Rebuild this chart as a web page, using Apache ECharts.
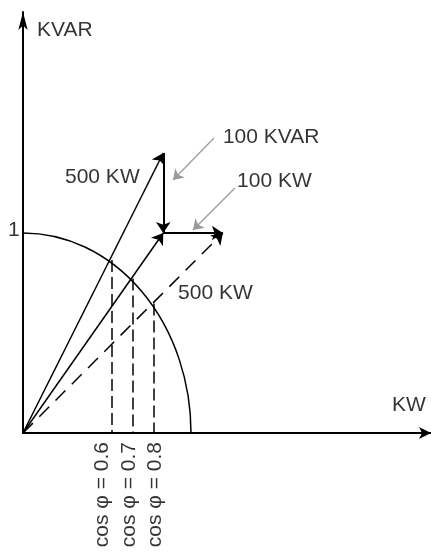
<!DOCTYPE html>
<html>
<head>
<meta charset="utf-8">
<script src="https://cdn.jsdelivr.net/npm/echarts@6/dist/echarts.min.js"></script>
<style>
  html, body { margin: 0; padding: 0; background: #fff; }
  #powerChart { width: 431px; height: 555px; }
</style>
</head>
<body>
<div id="powerChart"></div>
<script>
// unit circle (drawn as ellipse because the two axes use different scales)
var arcRadius = 1
// projection of the cos phi points on the circle
var cosLineX = [0.528, 0.653, 0.776]
var cosLineY = [0.865, 0.773, 0.648]
var cosLabels = ['cos φ = 0.6', 'cos φ = 0.7', 'cos φ = 0.8']
var cosLabelX = [0.47, 0.631, 0.786]
// vector end points
var pointA = [0.835, 1.40] // 500 KW
var pointB = [0.835, 1.0] // after -100 KVAR
var pointC = [1.19, 1.0] // after +100 KW
// grey pointer arrows
var leaderFrom = [[1.137, 1.475], [1.262, 1.225]]
var leaderTo = [[0.893, 1.265], [1.012, 1.015]]
// free texts
var textNames = ['KVAR', '500 KW', '100 KVAR', '100 KW', '500 KW', 'KW', '1']
var textPos = [[0.083, 2.015], [0.25, 1.28], [1.19, 1.478], [1.274, 1.258], [0.923, 0.70], [2.196, 0.137], [-0.089, 1.015]]

var chart = echarts.init(document.getElementById('powerChart'))

var textFont = {
  fontFamily: 'Liberation Sans',
  fontSize: 21,
  color: '#000'
}

var dropData = []
for (var i = 0; i < cosLineX.length; i++) {
  dropData.push({ coords: [[cosLineX[i], cosLineY[i]], [cosLineX[i], 0]] })
}
var leaderData = []
for (var j = 0; j < leaderFrom.length; j++) {
  leaderData.push({ coords: [leaderFrom[j], leaderTo[j]] })
}

chart.setOption({
  backgroundColor: '#fff',
  animation: false,
  grid: {
    left: 23,
    top: 12,
    right: 0,
    bottom: 122
  },
  xAxis: {
    type: 'value',
    min: 0,
    max: 2.4286,
    axisLine: {
      show: true,
      symbol: ['none', 'arrow'],
      symbolSize: [9, 12],
      lineStyle: { color: '#000', width: 2 }
    },
    axisTick: { show: false },
    axisLabel: { show: false },
    splitLine: { show: false }
  },
  yAxis: {
    type: 'value',
    min: 0,
    max: 2.105,
    axisLine: {
      show: true,
      symbol: ['none', 'arrow'],
      symbolSize: [7, 18],
      lineStyle: { color: '#000', width: 2 }
    },
    axisTick: { show: false },
    axisLabel: { show: false },
    splitLine: { show: false }
  },
  series: [
    {
      // quarter circle
      type: 'custom',
      silent: true,
      data: [[0, 0]],
      renderItem: function(params, api) {
        var c = api.coord([0, 0])
        var px = api.coord([arcRadius, 0])
        var py = api.coord([0, arcRadius])
        var rx = px[0] - c[0]
        var ry = c[1] - py[1]
        return {
          type: 'path',
          shape: {
            pathData: 'M' + px[0] + ' ' + px[1] + ' A' + rx + ' ' + ry + ' 0 0 0 ' + py[0] + ' ' + py[1]
          },
          style: { fill: 'none', stroke: '#000', lineWidth: 1.5 }
        }
      }
    },
    {
      // dashed drops to the kw axis
      type: 'lines',
      coordinateSystem: 'cartesian2d',
      silent: true,
      symbol: 'none',
      lineStyle: { color: '#000', width: 1.5, opacity: 1, type: [12, 5] },
      data: dropData
    },
    {
      // solid vectors from origin
      type: 'lines',
      coordinateSystem: 'cartesian2d',
      silent: true,
      symbol: ['none', 'arrow'],
      symbolSize: 11,
      lineStyle: { color: '#000', width: 1.5, opacity: 1 },
      data: [
        { coords: [[0, 0], pointA] },
        { coords: [[0, 0], pointB] }
      ]
    },
    {
      // dashed resulting vector
      type: 'lines',
      coordinateSystem: 'cartesian2d',
      silent: true,
      symbol: ['none', 'arrow'],
      symbolSize: 11,
      lineStyle: { color: '#000', width: 1.5, opacity: 1, type: [14, 9] },
      data: [
        { coords: [[0, 0], pointC] }
      ]
    },
    {
      // compensation steps
      type: 'lines',
      coordinateSystem: 'cartesian2d',
      silent: true,
      symbol: ['none', 'arrow'],
      symbolSize: 11,
      lineStyle: { color: '#000', width: 2, opacity: 1 },
      data: [
        { coords: [pointA, pointB] },
        { coords: [pointB, pointC] }
      ]
    },
    {
      // grey pointers
      type: 'lines',
      coordinateSystem: 'cartesian2d',
      silent: true,
      symbol: ['none', 'arrow'],
      symbolSize: 10,
      lineStyle: { color: '#9a9a9a', width: 1.2, opacity: 1 },
      data: leaderData
    },
    {
      type: 'scatter',
      silent: true,
      clip: false,
      symbolSize: 0,
      label: Object.assign({
        show: true,
        position: 'inside',
        align: 'left',
        verticalAlign: 'middle',
        formatter: '{b}'
      }, textFont),
      data: textNames.map(function(n, i) {
        return { name: n, value: textPos[i] }
      })
    },
    {
      type: 'scatter',
      silent: true,
      clip: false,
      symbolSize: 0,
      label: Object.assign({
        show: true,
        position: 'inside',
        align: 'right',
        verticalAlign: 'middle',
        rotate: 90,
        formatter: '{b}'
      }, textFont),
      data: cosLabels.map(function(n, i) {
        return { name: n, value: [cosLabelX[i], -0.045] }
      })
    }
  ]
})
</script>
</body>
</html>
